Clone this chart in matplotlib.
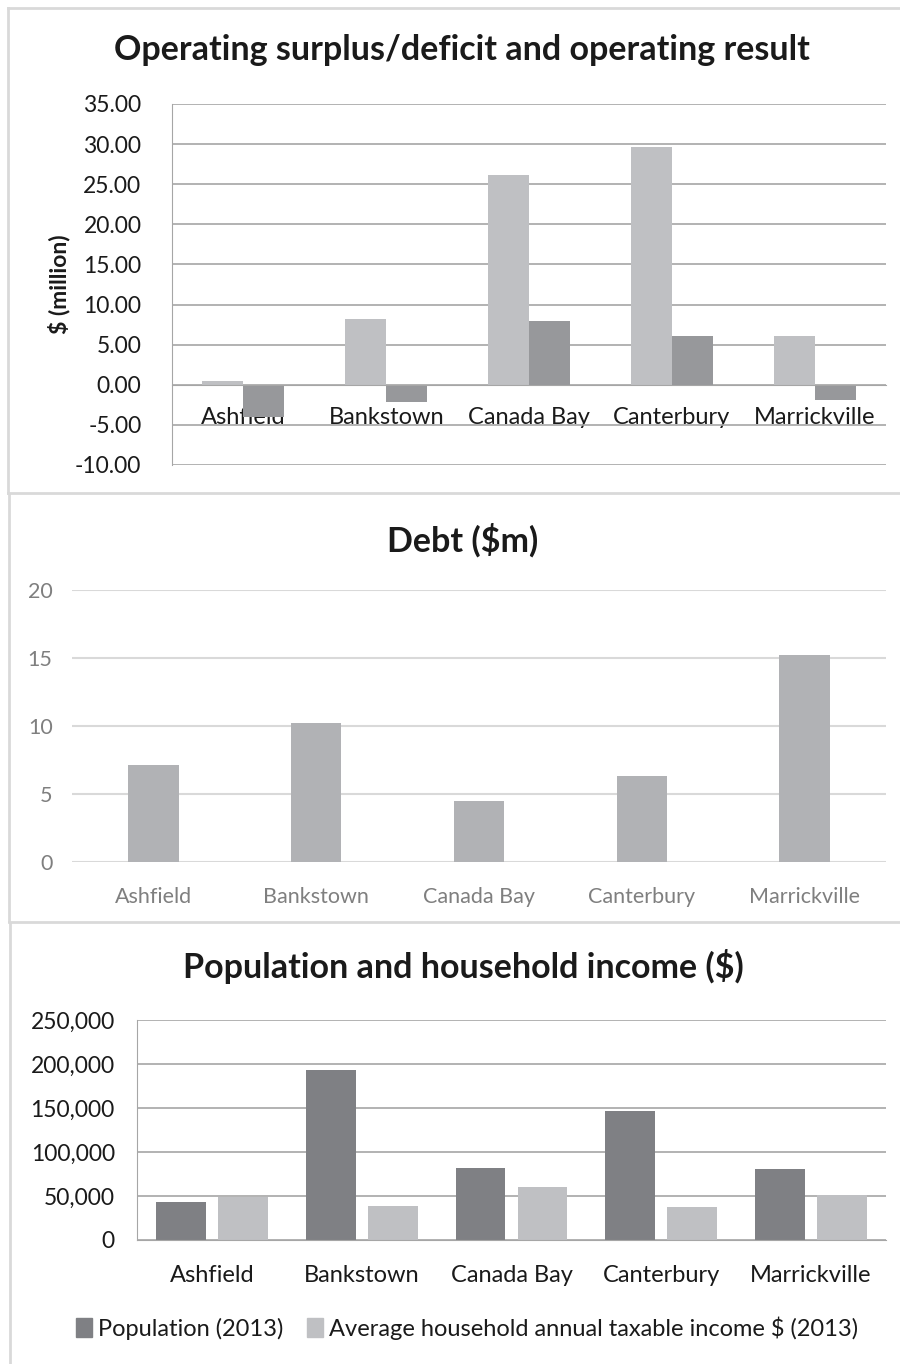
import numpy as np
import matplotlib
matplotlib.use("Agg")
import matplotlib.pyplot as plt
from matplotlib.patches import Patch
from matplotlib.lines import Line2D
from matplotlib.ticker import FuncFormatter

plt.rcParams['font.family'] = ['Lato', 'DejaVu Sans']

councils = ["Ashfield", "Bankstown", "Canada Bay", "Canterbury", "Marrickville"]

# panel 1: operating surplus/deficit and operating result ($ million)
surplus = [0.5, 8.2, 26.1, 29.6, 6.1]
op_result = [-4.0, -2.2, 8.0, 6.1, -1.9]

# panel 2: debt ($m)
debt = [7.1, 10.25, 4.5, 6.35, 15.25]

# panel 3: population and household income
population = [42800, 193200, 81800, 146600, 81100]
income = [48500, 38600, 59800, 37500, 50800]

W, H = 900, 1364
fig = plt.figure(figsize=(W / 100, H / 100), dpi=100)


def px_axes(left, top, right, bottom):
    return fig.add_axes([left / W, 1 - bottom / H, (right - left) / W, (bottom - top) / H])


def hline(y, x0, x1, color='#d9d9d9', lw=2):
    fig.add_artist(Line2D([x0 / W, x1 / W], [1 - y / H, 1 - y / H], color=color, lw=lw))


def vline(x, y0, y1, color='#d9d9d9', lw=2):
    fig.add_artist(Line2D([x / W, x / W], [1 - y0 / H, 1 - y1 / H], color=color, lw=lw))


# panel borders
hline(8, 8, 900)
vline(8, 8, 493)
hline(493, 8, 900)
vline(9, 494, 921)
hline(922, 9, 900)
vline(10, 923, 1364)

x = np.arange(len(councils))
dark_txt = '#1a1a1a'
title_kw = dict(ha='center', va='center', fontsize=24.5, fontweight='bold', color=dark_txt)

# ---- panel 1
ax1 = px_axes(172, 104, 886, 465)
bw = 0.287
ax1.bar(x - bw / 2, surplus, bw, color='#bfc0c3', zorder=2)
ax1.bar(x + bw / 2, op_result, bw, color='#97989b', zorder=2)
ax1.set_xlim(-0.5, 4.5)
ax1.set_ylim(-10, 35)
ax1.set_yticks(np.arange(-10, 36, 5))
ax1.yaxis.set_major_formatter(FuncFormatter(lambda v, p: f"{v:.2f}"))
ax1.grid(axis='y', color='#a6a6a6', lw=1.2, zorder=1)
ax1.set_axisbelow(True)
for s in ['top', 'right']:
    ax1.spines[s].set_visible(False)
ax1.spines['left'].set_color('#a6a6a6')
ax1.spines['bottom'].set_position(('data', 0))
ax1.spines['bottom'].set_color('#a6a6a6')
ax1.set_xticks(x)
ax1.set_xticklabels(councils)
ax1.tick_params(axis='x', length=0, pad=16, labelsize=17, colors=dark_txt)
ax1.tick_params(axis='y', length=0, pad=22, labelsize=16.5, colors=dark_txt)
ax1.set_ylabel("$ (million)", fontsize=16.5, fontweight='bold', color=dark_txt)
ax1.yaxis.set_label_coords((70 - 172) / 714, 0.5)
fig.text(462 / W, 1 - 50 / H, "Operating surplus/deficit and operating result", **title_kw)

# ---- panel 2
ax2 = px_axes(72, 590, 886, 862)
ax2.bar(x, debt, 0.31, color='#b1b2b5', zorder=2)
ax2.set_xlim(-0.5, 4.5)
ax2.set_ylim(0, 20)
ax2.set_yticks([0, 5, 10, 15, 20])
ax2.grid(axis='y', color='#d9d9d9', lw=1.5, zorder=1)
ax2.set_axisbelow(True)
for s in ['top', 'right', 'left', 'bottom']:
    ax2.spines[s].set_visible(False)
ax2.set_xticks(x)
ax2.set_xticklabels(councils)
ax2.tick_params(axis='x', length=0, pad=18, labelsize=15.5, colors='#7f7f7f')
ax2.tick_params(axis='y', length=0, pad=14, labelsize=15.5, colors='#7f7f7f')
fig.text(463 / W, 1 - 540 / H, "Debt ($m)", **title_kw)

# ---- panel 3
ax3 = px_axes(137, 1020, 886, 1240)
bw3 = 0.333
off = 0.207
ax3.bar(x - off, population, bw3, color='#7f8084', zorder=2)
ax3.bar(x + off, income, bw3, color='#bfc0c3', zorder=2)
ax3.set_xlim(-0.5, 4.5)
ax3.set_ylim(0, 250000)
ax3.set_yticks(np.arange(0, 250001, 50000))
ax3.yaxis.set_major_formatter(FuncFormatter(lambda v, p: f"{v:,.0f}"))
ax3.grid(axis='y', color='#a6a6a6', lw=1.2, zorder=1)
ax3.set_axisbelow(True)
for s in ['top', 'right']:
    ax3.spines[s].set_visible(False)
ax3.spines['left'].set_color('#a6a6a6')
ax3.spines['bottom'].set_color('#a6a6a6')
ax3.set_xticks(x)
ax3.set_xticklabels(councils)
ax3.tick_params(axis='x', length=0, pad=18, labelsize=17, colors=dark_txt)
ax3.tick_params(axis='y', length=0, pad=16, labelsize=16.5, colors=dark_txt)
fig.text(463 / W, 1 - 967 / H, "Population and household income ($)", **title_kw)
handles = [Patch(color='#7f8084'), Patch(color='#bfc0c3')]
fig.legend(handles, ["Population (2013)", "Average household annual taxable income $ (2013)"],
           loc='center', bbox_to_anchor=(467 / W, 1 - 1328 / H), ncol=2, frameon=False,
           fontsize=17, handlelength=0.7, handleheight=0.9, handletextpad=0.25,
           columnspacing=1.0, labelcolor=dark_txt)

fig.savefig("out.png", dpi=100)
